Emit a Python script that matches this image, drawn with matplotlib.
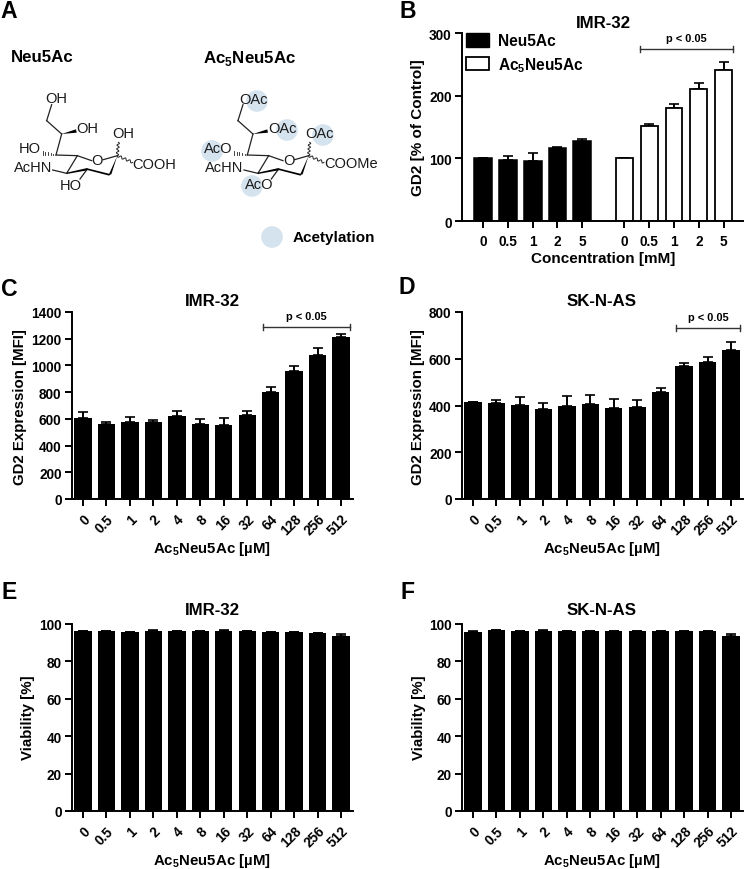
import numpy as np
import matplotlib
matplotlib.use("Agg")
import matplotlib.pyplot as plt
from matplotlib.patches import Circle, Polygon, Patch

plt.rcParams['font.family'] = ['Liberation Sans', 'DejaVu Sans']
plt.rcParams['font.weight'] = 'bold'
plt.rcParams['mathtext.fontset'] = 'custom'
plt.rcParams['mathtext.bf'] = 'Liberation Sans:bold'
plt.rcParams['mathtext.rm'] = 'Liberation Sans'

W, H = 745, 870
AC5 = r'Ac$_{\mathbf{5}}$Neu5Ac'

# panel B
b_conc = ['0', '0.5', '1', '2', '5']
b_neu = [100, 98, 95, 116, 127]
b_neu_err = [0, 5, 14, 2, 4]
b_ac5 = [100, 151, 181, 211, 241]
b_ac5_err = [0, 4, 5, 10, 13]

# panels C to F
doses = ['0', '0.5', '1', '2', '4', '8', '16', '32', '64', '128', '256', '512']
c_mfi = [604, 565, 577, 575, 622, 565, 555, 632, 803, 960, 1077, 1214]
c_err = [45, 10, 40, 17, 35, 37, 52, 30, 38, 38, 57, 20]
d_mfi = [413, 412, 403, 386, 399, 406, 391, 393, 457, 571, 588, 638]
d_err = [3, 13, 32, 26, 40, 39, 37, 30, 16, 11, 21, 32]
e_via = [96.2, 96.3, 95.6, 96.4, 96.0, 96.2, 96.4, 96.0, 95.7, 95.5, 95.2, 93.5]
e_err = [0.1, 0.1, 0.2, 0.2, 0.1, 0.1, 0.2, 0.1, 0.2, 0.3, 0.1, 0.9]
f_via = [95.5, 96.8, 96.2, 96.4, 96.4, 96.4, 96.2, 96.1, 96.3, 96.2, 96.2, 93.6]
f_err = [0.5, 0.1, 0.1, 0.2, 0.1, 0.1, 0.1, 0.1, 0.1, 0.1, 0.1, 1.1]

fig = plt.figure(figsize=(W / 100, H / 100), dpi=100)

# full figure overlay in pixels, for the drawn molecules and panel letters
pix = fig.add_axes([0, 0, 1, 1])
pix.set_xlim(0, W)
pix.set_ylim(H, 0)
pix.axis('off')


def make_axes(left, right, top, bottom):
    ax = fig.add_axes([left / W, 1 - bottom / H, (right - left) / W, (bottom - top) / H])
    ax.spines['right'].set_visible(False)
    ax.spines['top'].set_visible(False)
    ax.spines['left'].set_linewidth(1.4)
    ax.spines['bottom'].set_linewidth(1.4)
    ax.patch.set_alpha(0)
    ax.tick_params(axis='both', width=1.4, length=5, labelsize=9.8, pad=2.5)
    ax.tick_params(axis='x', pad=4)
    return ax


def put_labels(title, title_xy, xlabel, xlabel_xy, ylabel, ylabel_xy, fs=10.8):
    pix.text(title_xy[0], title_xy[1], title, fontsize=12.2, ha='center', va='center')
    pix.text(xlabel_xy[0], xlabel_xy[1], xlabel, fontsize=fs, ha='center', va='center')
    pix.text(ylabel_xy[0], ylabel_xy[1], ylabel, fontsize=fs, ha='center', va='center', rotation=90)


def bracket(ax, x0, x1, y, ytext, tick):
    ax.plot([x0, x1], [y, y], color='#333333', lw=1.0, clip_on=False)
    ax.plot([x0, x0], [y - tick, y + tick], color='#333333', lw=1.0, clip_on=False)
    ax.plot([x1, x1], [y - tick, y + tick], color='#333333', lw=1.0, clip_on=False)
    ax.text((x0 + x1) / 2, ytext, 'p < 0.05', fontsize=7.9, ha='center', va='center')


def dose_panel(box, vals, errs, ymax, ystep, title, title_xy, xlabel_xy, ylabel, ylabel_xy):
    ax = make_axes(*box)
    x = np.arange(len(vals))
    ax.bar(x, vals, width=0.74, color='black', zorder=2)
    ax.errorbar(x, vals, yerr=[np.zeros(len(vals)), errs], fmt='none', ecolor='black',
                elinewidth=1.4, capsize=3.6, capthick=1.2, zorder=2)
    ax.set_xlim(-0.47, 11.51)
    ax.set_ylim(0, ymax)
    ax.set_yticks(np.arange(0, ymax + 1, ystep))
    ax.set_xticks(x)
    ax.set_xticklabels(doses, rotation=45, ha='right', rotation_mode='anchor')
    put_labels(title, title_xy, AC5 + ' [µM]', xlabel_xy, ylabel, ylabel_xy)
    return ax


# panel B
ax = make_axes(462, 743, 34, 222)
xa = np.arange(5)
xb = xa + 5.7
ax.bar(xa, b_neu, width=0.72, color='black', edgecolor='black', linewidth=1.1, zorder=2)
ax.errorbar(xa, b_neu, yerr=[np.zeros(5), b_neu_err], fmt='none', ecolor='black',
            elinewidth=1.4, capsize=3.6, capthick=1.2, zorder=2)
ax.bar(xb, b_ac5, width=0.68, color='white', edgecolor='black', linewidth=1.3, zorder=2)
ax.errorbar(xb, b_ac5, yerr=[np.zeros(5), b_ac5_err], fmt='none', ecolor='black',
            elinewidth=1.4, capsize=3.6, capthick=1.2, zorder=1)
ax.set_xlim(-0.85, 10.48)
ax.set_ylim(0, 300)
ax.set_yticks([0, 100, 200, 300])
ax.set_xticks(np.concatenate([xa, xb]))
ax.set_xticklabels(b_conc + b_conc)
ax.tick_params(axis='x', pad=4)
bracket(ax, 6.33, 10.08, 275, 292, 5)
ax.legend(handles=[Patch(facecolor='black', edgecolor='black'),
                   Patch(facecolor='white', edgecolor='black', linewidth=1.3)],
          labels=['Neu5Ac', AC5], loc='upper left', bbox_to_anchor=(0.013, 1.0),
          frameon=False, fontsize=11.2, borderpad=0, borderaxespad=0,
          handlelength=1.5, handleheight=1.0, handletextpad=0.55, labelspacing=0.42)
put_labels('IMR-32', (603, 24), 'Concentration [mM]', (603, 259),
           'GD2 [% of Control]', (418, 128), fs=11)

# panels C to F
ax_c = dose_panel((72, 353, 313, 500), c_mfi, c_err, 1400, 200, 'IMR-32', (212, 302),
                  (212, 549), 'GD2 Expression [MFI]', (20, 407))
bracket(ax_c, 7.68, 11.39, 1288, 1370, 25)
ax_d = dose_panel((462, 743, 313, 500), d_mfi, d_err, 800, 200, 'SK-N-AS', (602, 302),
                  (602, 549), 'GD2 Expression [MFI]', (418, 407))
bracket(ax_d, 8.66, 11.38, 733, 780, 13)
dose_panel((72, 353, 625, 812), e_via, e_err, 100, 20, 'IMR-32', (212, 611),
           (212, 861), 'Viability [%]', (28, 718))
dose_panel((462, 743, 625, 812), f_via, f_err, 100, 20, 'SK-N-AS', (602, 611),
           (602, 861), 'Viability [%]', (419, 718))

# panel letters
for letter, lx, ly in [('A', 9, 11), ('B', 408, 11), ('C', 9, 290),
                       ('D', 407, 288), ('E', 9, 593), ('F', 408, 593)]:
    pix.text(lx, ly, letter, fontsize=16.6, ha='center', va='center')

# panel A, molecules
pix.text(11, 58, 'Neu5Ac', fontsize=12.2, va='center')
pix.text(203, 58, AC5, fontsize=12.2, va='center')
pix.text(293, 238, 'Acetylation', fontsize=11, va='center')

blue = '#d5e3ef'
for cx, cy in [(257, 102), (287, 131), (323, 136), (212, 152), (252, 187), (272, 238)]:
    pix.add_patch(Circle((cx, cy), 10.8, facecolor=blue, edgecolor='none', zorder=1))


def molecule(dx, labels):
    def z(zx, zy):
        return zx / 3 + dx, 85 + zy / 3

    bonds = [((155, 62), (140, 110)), ((140, 110), (185, 150)), ((185, 150), (168, 213)),
             ((168, 213), (232, 215)), ((232, 215), (275, 230)), ((310, 227), (352, 215)),
             ((200, 268), (232, 215)), ((200, 268), (158, 258)), ((262, 255), (240, 285))]
    for p, q in bonds:
        (x0, y0), (x1, y1) = z(*p), z(*q)
        pix.plot([x0, x1], [y0, y1], color='#222222', lw=0.9, zorder=3)
    # bold ring edges
    for pts in [[(352, 215), (326, 273), (334, 271)],
                [(262, 253), (330, 270), (328, 275), (262, 258)],
                [(262, 252), (200, 266), (200, 270), (262, 259)],
                [(185, 150), (228, 136), (230, 146)]]:
        pix.add_patch(Polygon([z(*p) for p in pts], closed=True, facecolor='black',
                              edgecolor='none', zorder=3))
    # hashed bond
    for t, half in zip(np.linspace(0, 1, 6), np.linspace(1, 6, 6)):
        xh = 168 + (128 - 168) * t
        yh = 213 + (207 - 213) * t
        x0, y0 = z(xh, yh - half)
        x1, y1 = z(xh, yh + half)
        pix.plot([x0, x1], [y0, y1], color='#222222', lw=0.6, zorder=3)
    # wavy bonds
    for p, q in [((352, 215), (355, 175)), ((352, 215), (398, 235))]:
        (x0, y0), (x1, y1) = z(*p), z(*q)
        t = np.linspace(0, 1, 40)
        nx, ny = -(y1 - y0), x1 - x0
        norm = np.hypot(nx, ny)
        wob = 1.2 * np.sin(t * 2 * np.pi * 3.5)
        pix.plot(x0 + (x1 - x0) * t + wob * nx / norm, y0 + (y1 - y0) * t + wob * ny / norm,
                 color='#222222', lw=0.7, zorder=3)
    for txt, zx, zy, ha in labels:
        xt, yt = z(zx, zy)
        pix.text(xt, yt, txt, fontsize=10.5, fontweight='normal', ha=ha, va='center',
                 color='#1a1a1a', zorder=4)


molecule(0, [('OH', 170, 42, 'center'), ('OH', 262, 131, 'center'), ('OH', 370, 146, 'center'),
             ('HO', 90, 193, 'center'), ('AcHN', 100, 250, 'center'), ('O', 292, 228, 'center'),
             ('COOH', 462, 240, 'center'), ('HO', 213, 302, 'center')])
molecule(191.3, [('OAc', 187, 44, 'center'), ('OAc', 275, 131, 'center'), ('OAc', 385, 146, 'center'),
                 ('AcO', 80, 193, 'center'), ('AcHN', 100, 248, 'center'), ('O', 292, 228, 'center'),
                 ('COOMe', 478, 238, 'center'), ('AcO', 205, 300, 'center')])

fig.savefig('out.png', dpi=100)
